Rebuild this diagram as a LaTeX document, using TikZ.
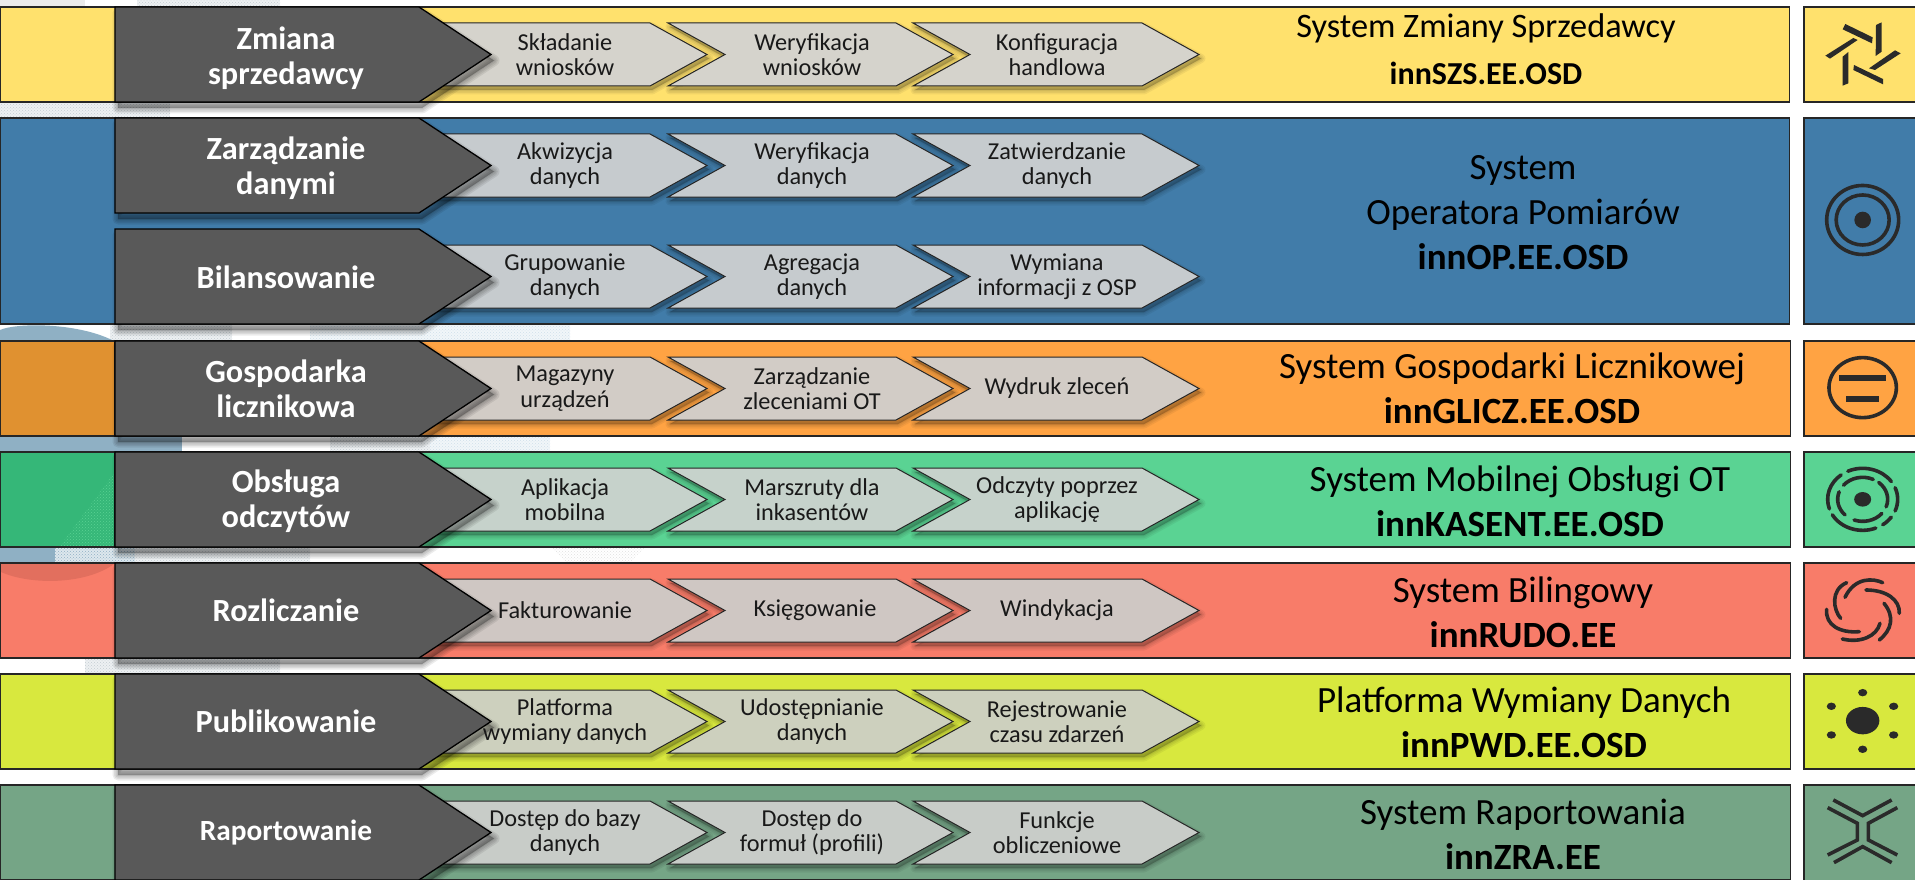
\documentclass[tikz,border=0pt]{standalone}
\usepackage{fontspec}
\setmainfont{Carlito}
\usetikzlibrary{patterns}
\definecolor{dk}{HTML}{595959}
\definecolor{ink}{HTML}{2A2A2A}
\definecolor{cyel}{HTML}{FFE16D}
\definecolor{cblu}{HTML}{417CA9}
\definecolor{cora}{HTML}{FFA343}
\definecolor{coral}{HTML}{E09130}
\definecolor{cgrn}{HTML}{5AD393}
\definecolor{cgrnl}{HTML}{35B778}
\definecolor{cred}{HTML}{F87C69}
\definecolor{credd}{HTML}{E26F5E}
\definecolor{clim}{HTML}{D8E83E}
\definecolor{cgry}{HTML}{75A586}
\definecolor{wblob}{HTML}{8FB0C4}
\definecolor{wdot}{HTML}{C4CDD3}
\definecolor{wpale}{HTML}{CFE0EA}
\definecolor{sa}{HTML}{D5D3CC}
\definecolor{sb}{HTML}{C6CBCE}
\definecolor{sc}{HTML}{D2CCC6}
\definecolor{sd}{HTML}{C6D2CB}
\definecolor{se}{HTML}{CFC7C3}
\definecolor{sf}{HTML}{CDD0BE}
\definecolor{sg}{HTML}{C8CCC8}
\tikzset{
  x=1pt,y=-1pt,
  bandbox/.style={draw=black!85,line width=1.3pt},
  darkarrow/.style={draw=black,line width=1.3pt,fill=dk,line join=miter},
  chevbox/.style={draw=black!85,line width=1pt,line join=miter},
  softshade/.style={draw=black,fill=black,line join=round,opacity=.055},
  darkshade/.style={draw=black,fill=black,line join=round,opacity=.075},
  darklabel/.style={text=white,font=\bfseries\fontsize{32.3}{35}\selectfont,align=center},
  steplabel/.style={text=black!90,font=\fontsize{24.3}{25.5}\selectfont,align=center},
  titlelabel/.style={text=black,font=\fontsize{37}{45}\selectfont,align=center},
  glyph/.style={draw=ink,line width=3.6pt},
  glyphfill/.style={fill=ink},
  wmdots/.style={fill=#1!30,postaction={pattern=crosshatch dots,pattern color=#1}},
  wmtint/.style={pattern=crosshatch dots,pattern color=#1}
}
\newcommand\chevron[4]{% left x, top y, fill, body length
  \def\pth{(#1,#2) -- ({#1+#4},#2) -- ({#1+#4+57},{#2+31.5}) -- ({#1+#4},{#2+63}) -- (#1,{#2+63}) -- ({#1+57},{#2+31.5}) -- cycle}
  \foreach \w in {9,6,3,1}{\path[softshade,line width=\w pt,shift={(2,4)}] \pth;}
  \path[chevbox,fill=#3] \pth;
}
\newcommand\darkshape[1]{% top y
  \def\pth{(115,#1) -- (419,#1) -- (491,{#1+47.5}) -- (419,{#1+95}) -- (115,{#1+95}) -- cycle}
  \foreach \w in {11,8,5,2}{\path[darkshade,line width=\w pt,shift={(3,6)}] \pth;}
  \path[darkarrow] \pth;
}
\newcommand\rowshapes[2]{% top y, chevron fill
  \chevron{913}{#1+16}{#2}{229}
  \chevron{668}{#1+16}{#2}{228}
  \chevron{430}{#1+16}{#2}{220}
  \darkshape{#1}
}
\newcommand\ringarc[5]{% centre, rx, ry, start, end
  \draw[glyph,line cap=round] (#1) ++(#4:#2pt and #3pt) arc[start angle=#4,end angle=#5,x radius=#2pt,y radius=#3pt];
}
\begin{document}
\begin{tikzpicture}
\useasboundingbox (0,0) rectangle (1915,880);
\fill[white] (0,0) rectangle (1915,880);
% watermark seen through the gaps
\fill[black!8] (0,0) rectangle (85,7);
\path[wmdots=wdot] (137,0) rectangle (280,7);
\path[wmdots=wdot] (0,102) rectangle (170,118);
\path[wmdots=wdot] (110,324) rectangle (232,340);
\path[wmdots=wpale] (310,324) rectangle (570,340);
\fill[wblob] (0,340) -- (0,330) .. controls (15,323) and (75,322) .. (112,340) -- cycle;
\fill[wblob] (0,436) rectangle (182,451);
\path[wmdots=wdot] (330,436) rectangle (430,451);
\path[wmdots=wpale] (430,436) rectangle (550,451);
\fill[wblob] (0,547) rectangle (55,562);
\path[wmdots=wblob] (55,547) rectangle (135,562);
\path[wmdots=wdot] (135,547) rectangle (310,562);
\path[wmtint=black!12] (550,547) -- (645,547) -- (630,562) -- (565,562) -- cycle;
\path[wmdots=wdot] (85,658) rectangle (280,673);
% bands
\draw[bandbox,fill=cyel] (0.6,7) rectangle (1789.5,102);
\draw[bandbox,fill=cblu] (0.6,118) rectangle (1789.5,324);
\draw[bandbox,fill=cora] (0.6,341) rectangle (1790.5,436);
\draw[bandbox,fill=coral] (0.6,341) rectangle (115,436);
\draw[bandbox,fill=cgrn] (0.6,452) rectangle (1790.5,547);
\draw[bandbox,fill=cgrnl] (0.6,452) rectangle (115,547);
\path[wmtint=cgrn] (60,546) -- (114,473) -- (114,546) -- cycle;
\draw[bandbox,fill=cred] (0.6,563) rectangle (1790.5,658);
\fill[credd] (1,564) -- (1,572) .. controls (30,585) and (85,585) .. (114,564) -- cycle;
\draw[bandbox,fill=clim] (0.6,674) rectangle (1790.5,769);
\draw[bandbox,fill=cgry] (0.6,785) rectangle (1790.5,879.5);
% icon boxes
\draw[bandbox,fill=cyel] (1804,7) rectangle (1925,102);
\draw[bandbox,fill=cblu] (1804,118) rectangle (1925,324);
\draw[bandbox,fill=cora] (1804,341) rectangle (1925,436);
\draw[bandbox,fill=cgrn] (1804,452) rectangle (1925,547);
\draw[bandbox,fill=cred] (1804,563) rectangle (1925,658);
\draw[bandbox,fill=clim] (1804,674) rectangle (1925,769);
\draw[bandbox,fill=cgry] (1804,785) rectangle (1925,885);
% process shapes
\rowshapes{7}{sa}
\rowshapes{118}{sb}
\rowshapes{229}{sb}
\rowshapes{341}{sc}
\rowshapes{452}{sd}
\rowshapes{563}{se}
\rowshapes{674}{sf}
\rowshapes{785}{sg}
% icons, top group
\begin{scope}[shift={(1780,0)},x=0.3333pt,y=-0.3333pt]
  \fill[glyphfill] (188,88)--(196,72)--(278,112)--(276,130)--cycle;
  \fill[glyphfill] (305,67)--(305,155)--(287,168)--(288,75)--cycle;
  \fill[glyphfill] (345,151)--(362,160)--(285,210)--(267,205)--cycle;
  \fill[glyphfill] (309,253)--(220,210)--(222,195)--(309,237)--cycle;
  \fill[glyphfill] (188,257)--(188,170)--(205,156)--(205,250)--cycle;
  \fill[glyphfill] (136,167)--(220,114)--(233,120)--(150,176)--cycle;
  \coordinate (ic2) at (248,660);
  \draw[glyph] (ic2) ellipse[x radius=36pt,y radius=34.5pt];
  \draw[glyph] (ic2) ellipse[x radius=26.5pt,y radius=25pt];
  \fill[glyphfill] (ic2) circle[radius=8.3pt];
  \draw[glyph] (248,1163) ellipse[x radius=33.7pt,y radius=30pt];
  \fill[glyphfill] (177,1126) rectangle (318,1144);
  \fill[glyphfill] (198,1188) rectangle (297,1206);
\end{scope}
% icons, lower group
\begin{scope}[shift={(1780,440)},x=0.3333pt,y=-0.3333pt]
  \coordinate (ic4) at (248,178);
  \ringarc{ic4}{35}{31}{115}{35}
  \ringarc{ic4}{35}{31}{22}{-22}
  \ringarc{ic4}{35}{31}{-35}{-55}
  \ringarc{ic4}{35}{31}{-68}{-150}
  \ringarc{ic4}{35}{31}{-162}{-232}
  \ringarc{ic4}{25}{22}{140}{65}
  \ringarc{ic4}{25}{22}{50}{-20}
  \ringarc{ic4}{25}{22}{-40}{-110}
  \ringarc{ic4}{25}{22}{-135}{-200}
  \fill[glyphfill] (ic4) ellipse[x radius=8.5pt,y radius=7.3pt];
  \begin{scope}[glyph,line cap=round]
    \draw (200,428) .. controls (150,450) and (160,510) .. (182,535);
    \draw (195,472) .. controls (225,410) and (280,415) .. (308,428);
    \draw (258,450) .. controls (320,450) and (360,480) .. (358,520);
    \draw (312,490) .. controls (345,530) and (335,570) .. (298,600);
    \draw (300,550) .. controls (290,590) and (240,610) .. (187,597);
    \draw (238,575) .. controls (180,580) and (135,555) .. (140,508);
  \end{scope}
  \fill[glyphfill] (248,842) ellipse[x radius=16.7pt,y radius=13.7pt];
  \foreach \p in {(248,758),(154,799),(341,799),(154,885),(341,885),(248,928)}
    \fill[glyphfill] \p ellipse[x radius=4.6pt,y radius=3.7pt];
  \begin{scope}[glyph,line join=miter]
    \draw (160,1080) -- (248,1127) -- (335,1080);
    \draw (143,1103) -- (232,1150) -- (232,1200) -- (143,1245);
    \draw (352,1103) -- (265,1150) -- (265,1200) -- (352,1245);
    \draw (162,1268) -- (248,1220) -- (335,1268);
  \end{scope}
\end{scope}
% left labels
\node[darklabel] (l1) at (286,58) {Zmiana\\sprzedawcy};
\node[darklabel] (l2) at (286,168) {Zarządzanie\\danymi};
\node[darklabel] (l3) at (286,277) {Bilansowanie};
\node[darklabel] (l4) at (286,389) {Gospodarka\\licznikowa};
\node[darklabel] (l5) at (286,501.5) {Obsługa\\odczytów};
\node[darklabel] (l6) at (286,610.5) {Rozliczanie};
\node[darklabel] (l7) at (286,721.5) {Publikowanie};
\node[darklabel,font=\bfseries\fontsize{29.3}{32}\selectfont] (l8) at (286,832.5) {Raportowanie};
% step labels
\node[steplabel] (a1) at (565,54.5) {Składanie\\wniosków};
\node[steplabel] (b1) at (812,54.5) {Weryfikacja\\wniosków};
\node[steplabel] (c1) at (1057,54.5) {Konfiguracja\\handlowa};
\node[steplabel] (a2) at (565,165.5) {Akwizycja\\danych};
\node[steplabel] (b2) at (812,165.5) {Weryfikacja\\danych};
\node[steplabel] (c2) at (1057,165.5) {Zatwierdzanie\\danych};
\node[steplabel] (a3) at (565,276.5) {Grupowanie\\danych};
\node[steplabel] (b3) at (812,276.5) {Agregacja\\danych};
\node[steplabel] (c3) at (1057,276.5) {Wymiana\\informacji z OSP};
\node[steplabel] (a4) at (565,388.5) {Magazyny\\urządzeń};
\node[steplabel] (b4) at (812,388.5) {Zarządzanie\\zleceniami OT};
\node[steplabel] (c4) at (1057,388.5) {Wydruk zleceń};
\node[steplabel] (a5) at (565,499.5) {Aplikacja\\mobilna};
\node[steplabel] (b5) at (812,499.5) {Marszruty dla\\inkasentów};
\node[steplabel] (c5) at (1057,499.5) {Odczyty poprzez\\aplikację};
\node[steplabel] (a6) at (565,610.5) {Fakturowanie};
\node[steplabel] (b6) at (815,610.5) {Księgowanie};
\node[steplabel] (c6) at (1057,610.5) {Windykacja};
\node[steplabel] (a7) at (565,721.5) {Platforma\\wymiany danych};
\node[steplabel] (b7) at (812,721.5) {Udostępnianie\\danych};
\node[steplabel] (c7) at (1057,721.5) {Rejestrowanie\\czasu zdarzeń};
\node[steplabel] (a8) at (565,832.5) {Dostęp do bazy\\danych};
\node[steplabel] (b8) at (812,832.5) {Dostęp do\\formuł (profili)};
\node[steplabel] (c8) at (1057,832.5) {Funkcje\\obliczeniowe};
% system titles
\node[titlelabel,font=\fontsize{34.3}{47}\selectfont] (t1) at (1486,49) {System Zmiany Sprzedawcy\\{\bfseries\fontsize{32}{47}\selectfont innSZS.EE.OSD}};
\node[titlelabel] (t2) at (1523,213) {System\\Operatora Pomiarów\\\textbf{innOP.EE.OSD}};
\node[titlelabel] (t3) at (1512,388) {System Gospodarki Licznikowej\\\textbf{innGLICZ.EE.OSD}};
\node[titlelabel] (t4) at (1520,501) {System Mobilnej Obsługi OT\\\textbf{innKASENT.EE.OSD}};
\node[titlelabel] (t5) at (1523,612) {System Bilingowy\\\textbf{innRUDO.EE}};
\node[titlelabel] (t6) at (1524,722) {Platforma Wymiany Danych\\\textbf{innPWD.EE.OSD}};
\node[titlelabel] (t7) at (1523,834) {System Raportowania\\\textbf{innZRA.EE}};
\end{tikzpicture}
\end{document}
